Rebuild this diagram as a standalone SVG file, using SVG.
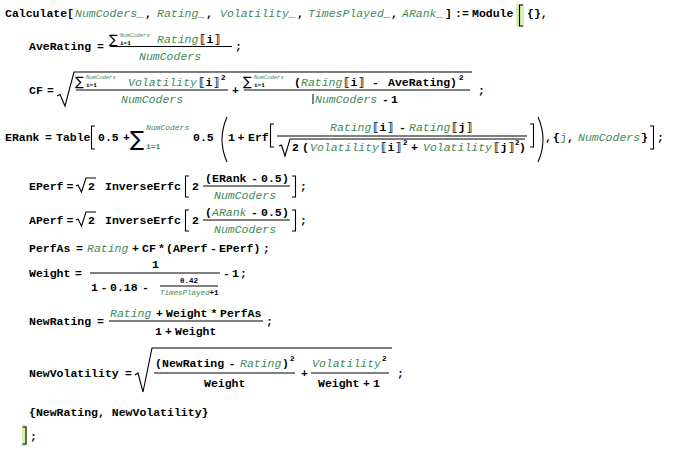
<svg xmlns="http://www.w3.org/2000/svg" width="694" height="453" viewBox="0 0 694 453">
<style>
text{font-family:"Liberation Mono","DejaVu Sans Mono",monospace;font-size:11.5px;font-weight:bold;fill:#000}
.g{font-style:italic;font-weight:normal;fill:#438958}
.gr{font-weight:normal;fill:#438958}
.sup{font-size:5.5px}
.sub{font-size:6px}
.bsup{font-size:8px}
.bsub{font-size:8px;fill:#438958}
.sm{font-size:7.5px}
.ex{font-size:7.5px}
.sig{font-family:"DejaVu Sans","Liberation Sans",sans-serif;font-weight:normal;font-size:13px}
.bsig{font-family:"DejaVu Sans","Liberation Sans",sans-serif;font-weight:normal;font-size:21px}
.ln{stroke:#000;stroke-width:1;fill:none}
.br{stroke:#000;stroke-width:1.1;fill:none}
.hl{fill:#d8efa8}
</style>
<rect width="694" height="453" fill="#fff"/>

<g id="line-calculate">
<text x="5" y="17">Calculate[</text>
<text class="g" x="75" y="17">NumCoders_</text>
<text x="145" y="17">,</text>
<text class="g" x="157" y="17">Rating_</text>
<text x="206" y="17">,</text>
<text class="g" x="220" y="17">Volatility_</text>
<text x="297" y="17">,</text>
<text class="g" x="308" y="17">TimesPlayed_</text>
<text x="391" y="17">,</text>
<text class="g" x="402" y="17">ARank_</text>
<text x="445" y="17">]</text>
<text x="455" y="17">:=</text>
<text x="472" y="17">Module</text>
<rect class="hl" x="516" y="4" width="8" height="23"/>
<path class="br" d="M523 5H519.5V26H523"/>
<text x="527" y="17">{},</text>
</g>

<g id="line-averating">
<text x="29" y="50">AveRating</text>
<text x="97" y="50">=</text>
<text class="sig" x="109" y="44">∑</text>
<text class="g sup" x="120" y="37">NumCoders</text>
<text class="sub" x="120" y="45">i=1</text>
<text class="g" x="157" y="43">Rating</text>
<text x="199" y="43" textLength="22" lengthAdjust="spacing">⟦i⟧</text>
<line class="ln" x1="110" y1="46.5" x2="232" y2="46.5"/>
<text class="g" x="139" y="60">NumCoders</text>
<text x="235" y="50">;</text>
</g>

<g id="line-cf">
<text x="29" y="94">CF</text>
<text x="47" y="94">=</text>
<path class="br" d="M57 96L60 94.5L65 106L74 72H472"/>
<text class="sig" x="75" y="86">∑</text>
<text class="g sup" x="86" y="79">NumCoders</text>
<text class="sub" x="86" y="87">i=1</text>
<text class="g" x="128" y="86">Volatility</text>
<text x="198" y="86" textLength="22" lengthAdjust="spacing">⟦i⟧</text>
<text class="ex" x="221" y="80">2</text>
<line class="ln" x1="76" y1="90" x2="228" y2="90"/>
<text class="g" x="121" y="103">NumCoders</text>
<text x="232" y="94">+</text>
<text class="sig" x="243" y="86">∑</text>
<text class="g sup" x="254" y="79">NumCoders</text>
<text class="sub" x="254" y="87">i=1</text>
<text x="294" y="86">(</text>
<text class="g" x="301" y="86">Rating</text>
<text x="343" y="86" textLength="22" lengthAdjust="spacing">⟦i⟧</text>
<text x="372" y="86">-</text>
<text x="388" y="86">AveRating</text>
<text x="450" y="86">)</text>
<text class="ex" x="459" y="80">2</text>
<line class="ln" x1="244" y1="90" x2="470" y2="90"/>
<line class="ln" x1="313" y1="94" x2="313" y2="104"/>
<text class="g" x="315" y="103">NumCoders</text>
<text x="382" y="103">-</text>
<text x="391" y="103">1</text>
<text x="478" y="94">;</text>
</g>

<g id="line-erank">
<text x="5" y="141">ERank</text>
<text x="45" y="141">=</text>
<text x="56" y="141">Table</text>
<path class="br" d="M95 126H91.5V149H95"/>
<text x="98" y="141">0.5</text>
<text x="123" y="141">+</text>
<text class="bsig" x="130" y="146">∑</text>
<text class="g bsup" x="146" y="130">NumCoders</text>
<text class="bsub" x="146" y="149">i=1</text>
<text x="193" y="141">0.5</text>
<path class="br" d="M227 117Q217 139.5 227 162"/>
<text x="228" y="141">1</text>
<text x="237.5" y="141">+</text>
<text x="248" y="141">Erf</text>
<path class="br" d="M274 124H270.5V147H274"/>
<text class="g" x="330" y="131">Rating</text>
<text x="372" y="131" textLength="22" lengthAdjust="spacing">⟦i⟧</text>
<text x="399" y="131">-</text>
<text class="g" x="409" y="131">Rating</text>
<text x="451" y="131" textLength="22" lengthAdjust="spacing">⟦j⟧</text>
<line class="ln" x1="277" y1="136" x2="527" y2="136"/>
<path class="br" d="M279 146L281.5 145L285 156L290 139H525"/>
<text x="292" y="151">2</text>
<text x="302" y="151">(</text>
<text class="g" x="310" y="151">Volatility</text>
<text x="380" y="151" textLength="22" lengthAdjust="spacing">⟦i⟧</text>
<text class="ex" x="403" y="145">2</text>
<text x="411" y="151">+</text>
<text class="g" x="423" y="151">Volatility</text>
<text x="493" y="151" textLength="22" lengthAdjust="spacing">⟦j⟧</text>
<text class="ex" x="515" y="145">2</text>
<text x="519" y="151">)</text>
<path class="br" d="M530 124H533.5V147H530"/>
<path class="br" d="M538 117Q548 139.5 538 162"/>
<text x="545" y="141">,</text>
<text x="553" y="141">{</text>
<text class="gr" x="560" y="141">j</text>
<text x="567" y="141">,</text>
<text class="g" x="578" y="141">NumCoders</text>
<text x="641" y="141">}</text>
<path class="br" d="M650 126H653.5V149H650"/>
<text x="657" y="141">;</text>
</g>

<g id="line-eperf">
<text x="29" y="190">EPerf</text>
<text x="66.5" y="190">=</text>
<path class="br" d="M76 186L78 185L81.5 192L86 178H96"/>
<text x="88" y="190">2</text>
<text x="105" y="190">InverseErfc</text>
<path class="br" d="M189 176H185.5V197H189"/>
<text x="192" y="190">2</text>
<text x="205" y="182">(</text>
<text x="212" y="182">ERank</text>
<text x="251" y="182">-</text>
<text x="261" y="182">0.5</text>
<text x="282" y="182">)</text>
<line class="ln" x1="203" y1="186" x2="290" y2="186"/>
<text class="g" x="214" y="199">NumCoders</text>
<path class="br" d="M292 176H295.5V197H292"/>
<text x="300" y="190">;</text>
</g>

<g id="line-aperf">
<text x="29" y="224">APerf</text>
<text x="66.5" y="224">=</text>
<path class="br" d="M76 220L78 219L81.5 226L86 212H96"/>
<text x="88" y="224">2</text>
<text x="105" y="224">InverseErfc</text>
<path class="br" d="M189 210H185.5V231H189"/>
<text x="192" y="224">2</text>
<text x="205" y="216">(</text>
<text class="g" x="212" y="216">ARank</text>
<text x="251" y="216">-</text>
<text x="261" y="216">0.5</text>
<text x="282" y="216">)</text>
<line class="ln" x1="203" y1="220" x2="290" y2="220"/>
<text class="g" x="214" y="233">NumCoders</text>
<path class="br" d="M292 210H295.5V231H292"/>
<text x="300" y="224">;</text>
</g>

<g id="line-perfas">
<text x="29" y="252">PerfAs</text>
<text x="76" y="252">=</text>
<text class="g" x="87" y="252">Rating</text>
<text x="132" y="252">+</text>
<text x="142" y="252">CF</text>
<text x="158" y="252">*</text>
<text x="166" y="252">(APerf</text>
<text x="210" y="252">-</text>
<text x="219" y="252">EPerf)</text>
<text x="263" y="252">;</text>
</g>

<g id="line-weight">
<text x="29" y="277">Weight</text>
<text x="75" y="277">=</text>
<text x="152" y="268">1</text>
<line class="ln" x1="90" y1="273" x2="220" y2="273"/>
<text x="91" y="291">1</text>
<text x="100.5" y="291">-</text>
<text x="110" y="291">0.18</text>
<text x="142" y="291">-</text>
<text class="sm" x="180" y="283">0.42</text>
<line class="ln" x1="160" y1="286" x2="218" y2="286" stroke-width="0.8"/>
<text class="g sm" x="160" y="295">TimesPlayed</text>
<text class="sm" x="209.5" y="295">+1</text>
<text x="223" y="277">-</text>
<text x="232" y="277">1</text>
<text x="240" y="277">;</text>
</g>

<g id="line-newrating">
<text x="29" y="325">NewRating</text>
<text x="97" y="325">=</text>
<text class="g" x="110" y="317">Rating</text>
<text x="156" y="317">+</text>
<text x="166" y="317">Weight</text>
<text x="210.5" y="317">*</text>
<text x="220" y="317">PerfAs</text>
<line class="ln" x1="109" y1="321" x2="263" y2="321"/>
<text x="155" y="335">1</text>
<text x="165" y="335">+</text>
<text x="175" y="335">Weight</text>
<text x="266" y="325">;</text>
</g>

<g id="line-newvolatility">
<text x="29" y="377">NewVolatility</text>
<text x="125" y="377">=</text>
<path class="br" d="M135 375L138 373L143 392L152 348H392"/>
<text x="155" y="367">(</text>
<text x="162" y="367">NewRating</text>
<text x="228.5" y="367">-</text>
<text class="g" x="240" y="367">Rating</text>
<text x="282" y="367">)</text>
<text class="ex" x="290" y="361">2</text>
<line class="ln" x1="154" y1="373" x2="295" y2="373"/>
<text x="204" y="387">Weight</text>
<text x="301" y="377">+</text>
<text class="g" x="312" y="367">Volatility</text>
<text class="ex" x="382" y="361">2</text>
<line class="ln" x1="311" y1="373" x2="389" y2="373"/>
<text x="318" y="387">Weight</text>
<text x="363" y="387">+</text>
<text x="373" y="387">1</text>
<text x="397" y="377">;</text>
</g>

<g id="line-result">
<text x="29" y="416">{NewRating, NewVolatility}</text>
</g>

<g id="line-end">
<rect class="hl" x="22" y="425" width="5" height="21"/>
<path class="br" d="M22.5 427H26V444H22.5"/>
<text x="30" y="440">;</text>
</g>
</svg>
